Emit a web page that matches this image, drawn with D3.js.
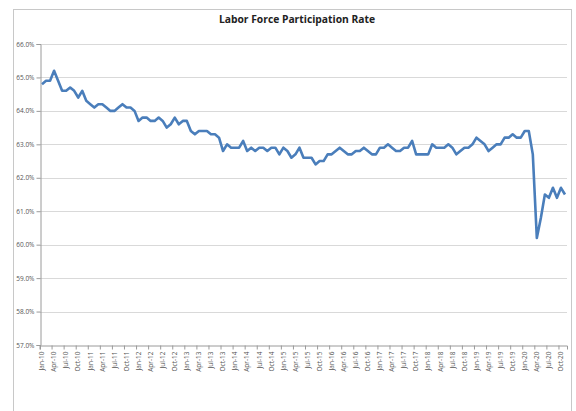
<!DOCTYPE html>
<html>
<head>
<meta charset="utf-8">
<script src="https://cdn.jsdelivr.net/npm/d3@7"></script>
<style>
  body { margin: 0; background: #fff; }
  svg text { font-family: "Open Sans", "Liberation Sans", sans-serif; }
</style>
</head>
<body>
<div id="chart"></div>
<script>
// month labels (category axis)
const monthNames = [`Jan`, `Feb`, `Mar`, `Apr`, `May`, `Jun`, `Jul`, `Aug`, `Sep`, `Oct`, `Nov`, `Dec`];
const years = [`10`, `11`, `12`, `13`, `14`, `15`, `16`, `17`, `18`, `19`, `20`];

// participation rate (%) by year
const rate2010 = [64.8, 64.9, 64.9, 65.2, 64.9, 64.6, 64.6, 64.7, 64.6, 64.4, 64.6, 64.3];
const rate2011 = [64.2, 64.1, 64.2, 64.2, 64.1, 64.0, 64.0, 64.1, 64.2, 64.1, 64.1, 64.0];
const rate2012 = [63.7, 63.8, 63.8, 63.7, 63.7, 63.8, 63.7, 63.5, 63.6, 63.8, 63.6, 63.7];
const rate2013 = [63.7, 63.4, 63.3, 63.4, 63.4, 63.4, 63.3, 63.3, 63.2, 62.8, 63.0, 62.9];
const rate2014 = [62.9, 62.9, 63.1, 62.8, 62.9, 62.8, 62.9, 62.9, 62.8, 62.9, 62.9, 62.7];
const rate2015 = [62.9, 62.8, 62.6, 62.7, 62.9, 62.6, 62.6, 62.6, 62.4, 62.5, 62.5, 62.7];
const rate2016 = [62.7, 62.8, 62.9, 62.8, 62.7, 62.7, 62.8, 62.8, 62.9, 62.8, 62.7, 62.7];
const rate2017 = [62.9, 62.9, 63.0, 62.9, 62.8, 62.8, 62.9, 62.9, 63.1, 62.7, 62.7, 62.7];
const rate2018 = [62.7, 63.0, 62.9, 62.9, 62.9, 63.0, 62.9, 62.7, 62.8, 62.9, 62.9, 63.0];
const rate2019 = [63.2, 63.1, 63.0, 62.8, 62.9, 63.0, 63.0, 63.2, 63.2, 63.3, 63.2, 63.2];
const rate2020 = [63.4, 63.4, 62.7, 60.2, 60.8, 61.5, 61.4, 61.7, 61.4, 61.7, 61.5];

const yTicks = [57, 58, 59, 60, 61, 62, 63, 64, 65, 66];

const allRates = [rate2010, rate2011, rate2012, rate2013, rate2014, rate2015,
                  rate2016, rate2017, rate2018, rate2019, rate2020];

let data = [];
allRates.forEach((arr, yi) => {
    arr.forEach((v, mi) => {
        data.push({ month: `${monthNames[mi]}-${years[yi]}`, idx: data.length, value: v });
    });
});

const W = 576, H = 411;
const margin = { left: 40, right: 9, top: 44, bottom: 66 };

let svg = d3.select(`#chart`).append(`svg`)
    .attr(`width`, W)
    .attr(`height`, H);

// chart area border
svg.append(`rect`)
    .attr(`x`, 13.5).attr(`y`, 9.5)
    .attr(`width`, 558).attr(`height`, 420)
    .attr(`fill`, `none`)
    .attr(`stroke`, `#c8c8c8`);

// title
svg.append(`text`)
    .attr(`x`, 297).attr(`y`, 23)
    .attr(`text-anchor`, `middle`)
    .attr(`font-size`, 10.3)
    .attr(`font-weight`, `bold`)
    .attr(`fill`, `#222`)
    .text(`Labor Force Participation Rate`);

let x = d3.scaleBand()
    .domain(data.map(d => d.month))
    .range([margin.left, W - margin.right]);

let y = d3.scaleLinear()
    .domain([57, 66])
    .range([H - margin.bottom, margin.top]);

// gridlines
svg.append(`g`).attr(`class`, `grid`)
    .selectAll(`line`)
    .data(yTicks.slice(1))
    .enter().append(`line`)
    .attr(`x1`, margin.left).attr(`x2`, W - margin.right)
    .attr(`y1`, d => Math.round(y(d)) + 0.5)
    .attr(`y2`, d => Math.round(y(d)) + 0.5)
    .attr(`stroke`, `#d9d9d9`)
    .attr(`stroke-width`, 1.2);

// Y axis
let yAxis = svg.append(`g`)
    .attr(`transform`, `translate(${margin.left + 0.5},0)`)
    .call(d3.axisLeft(y).tickValues(yTicks).tickSize(4).tickFormat(d => d3.format(`.1f`)(d) + `%`));
yAxis.select(`.domain`).attr(`stroke`, `#9a9a9a`);
yAxis.selectAll(`.tick line`).attr(`stroke`, `#9a9a9a`);
yAxis.selectAll(`text`)
    .attr(`font-size`, 6.5)
    .attr(`fill`, `#555`)
    .attr(`x`, -6);

// X axis
let tickMonths = data.filter(d => d.idx % 3 === 0).map(d => d.month);
let xAxis = svg.append(`g`)
    .attr(`transform`, `translate(0,${Math.round(H - margin.bottom) + 0.5})`)
    .call(d3.axisBottom(x).tickValues(tickMonths).tickSize(4));
xAxis.select(`.domain`).attr(`stroke`, `#9a9a9a`);
xAxis.selectAll(`.tick line`)
    .attr(`stroke`, `#9a9a9a`)
    .attr(`transform`, `translate(${-x.bandwidth() / 2},0)`);
xAxis.selectAll(`text`)
    .attr(`font-size`, 6.5)
    .attr(`fill`, `#555`)
    .attr(`text-anchor`, `end`)
    .attr(`dy`, `0.35em`)
    .attr(`transform`, `translate(0,6) rotate(-90)`)
    .attr(`x`, 0)
    .attr(`y`, 0);

// line
let valueline = d3.line()
    .x(d => x(d.month) + x.bandwidth() / 2)
    .y(d => y(d.value));

svg.append(`path`)
    .datum(data)
    .attr(`fill`, `none`)
    .attr(`stroke`, `#4a7ebb`)
    .attr(`stroke-width`, 2.6)
    .attr(`stroke-linejoin`, `round`)
    .attr(`d`, valueline);
</script>
</body>
</html>
